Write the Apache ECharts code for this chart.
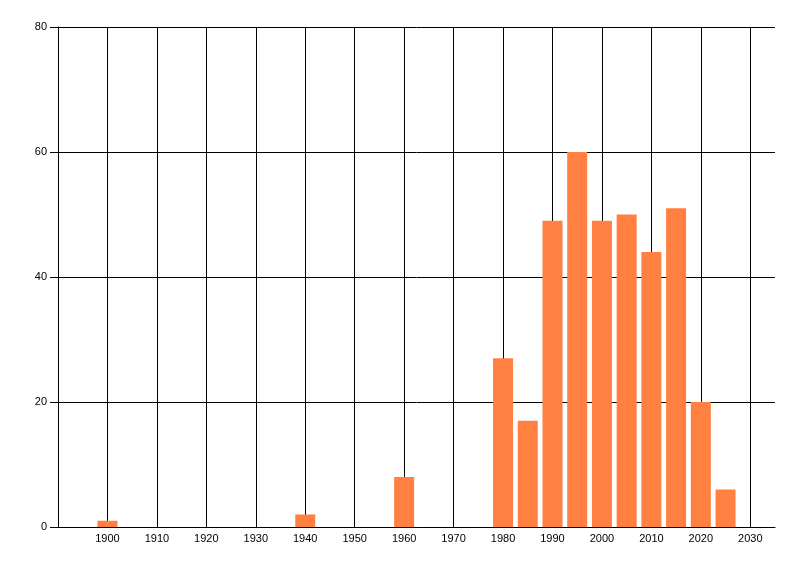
<!DOCTYPE html>
<html lang="en">
<head>
    <meta charset="UTF-8">
    <title>Bars by year</title>
    <script type="text/javascript" src="https://cdn.jsdelivr.net/npm/echarts@6/dist/echarts.min.js"></script>
    <style>
        html, body { margin: 0; padding: 0; background: #fff; }
        #main { width: 800px; height: 576px; }
    </style>
</head>
<body>
<div id="main"></div>
<script>
    // years (bar centres) and their counts
    var years  = [1900, 1940, 1960, 1980, 1985, 1990, 1995, 2000, 2005, 2010, 2015, 2020, 2025];
    var counts = [1, 2, 8, 27, 17, 49, 60, 49, 50, 44, 51, 20, 6];

    var points = [];
    for (var i = 0; i < years.length; i++) {
        points.push([years[i], counts[i]]);
    }

    var chart = echarts.init(document.getElementById('main'));
    var option = {
        animation: false,
        grid: { left: 58, right: 25, top: 27, bottom: 49 },
        xAxis: {
            type: 'value',
            min: 1890,
            max: 2035,
            interval: 10,
            axisLine: { show: true, lineStyle: { color: '#000', width: 1 } },
            axisTick: { show: false },
            axisLabel: {
                showMinLabel: false,
                showMaxLabel: false,
                formatter: function (v) { return String(v); },  // no thousands separator
                color: '#000',
                fontFamily: 'Liberation Sans',
                fontSize: 11,
                margin: 6
            },
            splitLine: {
                show: true,
                showMinLine: false,
                showMaxLine: false,
                lineStyle: { color: '#000', width: 1 }
            }
        },
        yAxis: {
            type: 'value',
            min: 0,
            max: 80,
            interval: 20,
            axisLine: { show: true, lineStyle: { color: '#000', width: 1 } },
            axisTick: { show: true, length: 8, lineStyle: { color: '#000' } },
            axisLabel: {
                color: '#000',
                fontFamily: 'Liberation Sans',
                fontSize: 11,
                margin: 11
            },
            splitLine: { show: true, lineStyle: { color: '#000', width: 1 } }
        },
        series: [
            {
                type: 'bar',
                data: points,
                barWidth: 20,
                itemStyle: { color: '#ff8040' }
            }
        ]
    };
    chart.setOption(option);
</script>
</body>
</html>
